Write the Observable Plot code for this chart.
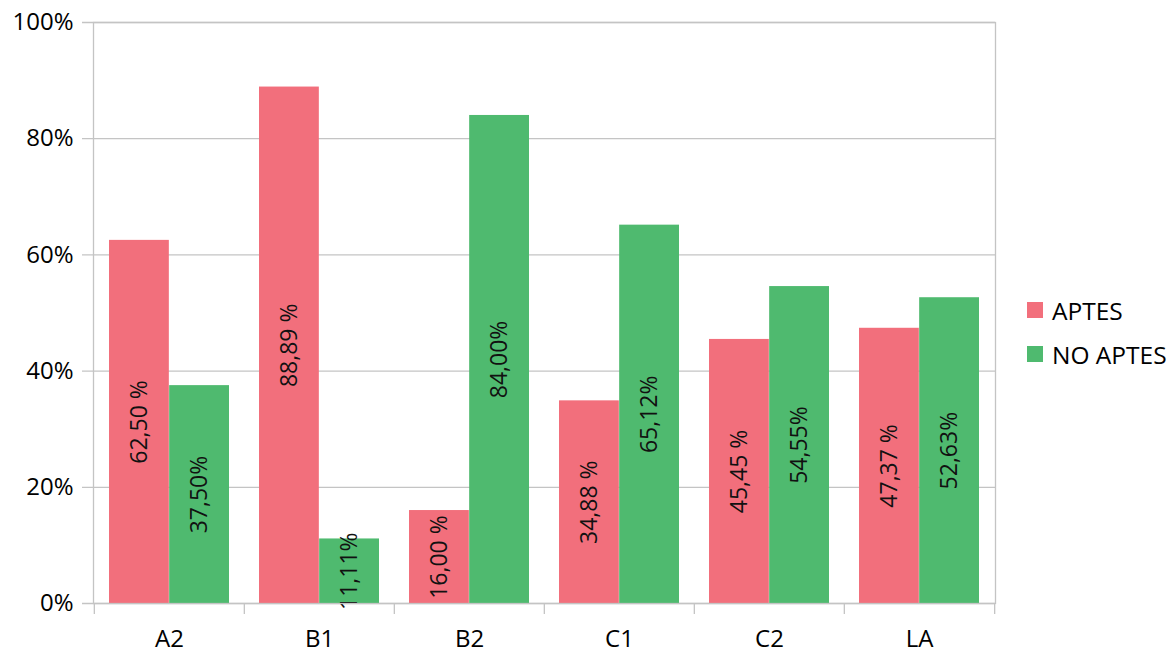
<!DOCTYPE html>
<html>
<head>
<meta charset="utf-8">
<script src="https://cdn.jsdelivr.net/npm/d3@7"></script>
<script src="https://cdn.jsdelivr.net/npm/@observablehq/plot@0.6"></script>
<style>
  html, body { margin: 0; padding: 0; background: #fff; }
  #wrap { position: relative; width: 1176px; height: 654px; font-family: "Open Sans", sans-serif; }
  #legend { position: absolute; left: 1027px; top: 288px; font-size: 24.5px; color: #000; }
  .item { display: flex; align-items: center; height: 44px; }
  .sw { width: 16px; height: 16px; margin-right: 9px; }
</style>
</head>
<body>
<div id="wrap"><div id="chart"></div><div id="legend"></div></div>
<script>
const categories = ["A2", "B1", "B2", "C1", "C2", "LA"];
const seriesNames = ["APTES", "NO APTES"];
const aptes = [62.50, 88.89, 16.00, 34.88, 45.45, 47.37];
const noAptes = [37.50, 11.11, 84.00, 65.12, 54.55, 52.63];
const aptesLabels = ["62,50 %", "88,89 %", "16,00 %", "34,88 %", "45,45 %", "47,37 %"];
const noAptesLabels = ["37,50%", "11,11%", "84,00%", "65,12%", "54,55%", "52,63%"];
const yTicks = [0, 20, 40, 60, 80, 100];
const colors = ["#f26f7c", "#4fba6f"];

const rows = categories.map((c, i) => ({cat: c, aptes: aptes[i], noAptes: noAptes[i], la: aptesLabels[i], ln: noAptesLabels[i]}));

const W = 1010, H = 654, mL = 93, mR = 15, mT = 22, mB = 51;
const bandW = (W - mL - mR) / categories.length;
const outer = 15, barW = (bandW - 2 * outer) / 2;
const grid = "#c4c4c4";

const chart = Plot.plot({
  width: W, height: H,
  marginLeft: mL, marginRight: mR, marginTop: mT, marginBottom: mB,
  style: {fontFamily: "Open Sans", fontSize: "24px", color: "#000", background: "#fff", overflow: "visible"},
  x: {domain: categories, padding: 0, tickSize: 0, tickPadding: 26, label: null},
  y: {domain: [0, 100], ticks: yTicks, tickFormat: d => d + "%", tickSize: 0, tickPadding: 20, label: null},
  marks: [
    Plot.ruleY(yTicks, {stroke: grid, strokeWidth: 1.3, insetLeft: -11}),
    Plot.barY(rows, {x: "cat", y: "aptes", fill: colors[0], insetLeft: outer, insetRight: outer + barW}),
    Plot.barY(rows, {x: "cat", y: "noAptes", fill: colors[1], insetLeft: outer + barW, insetRight: outer}),
    Plot.text(rows, {x: "cat", y: d => d.aptes / 2, text: "la", rotate: -90, dx: -barW / 2, fill: "#111", fontSize: 23}),
    Plot.text(rows, {x: "cat", y: d => d.noAptes / 2, text: "ln", rotate: -90, dx: barW / 2, fill: "#111", fontSize: 23}),
    Plot.frame({stroke: grid, strokeWidth: 1.3}),
    Plot.ruleX(categories, {x: d => d, y1: 0, y2: 0, dx: -bandW / 2, insetBottom: -11, stroke: grid, strokeWidth: 1.3}),
    Plot.ruleX(categories.slice(-1), {x: d => d, y1: 0, y2: 0, dx: bandW / 2, insetBottom: -11, stroke: grid, strokeWidth: 1.3})
  ]
});
document.getElementById("chart").appendChild(chart);

const legend = d3.select("#legend");
seriesNames.forEach((s, i) => {
  const it = legend.append("div").attr("class", "item");
  it.append("div").attr("class", "sw").style("background", colors[i]);
  it.append("span").text(s);
});
</script>
</body>
</html>
